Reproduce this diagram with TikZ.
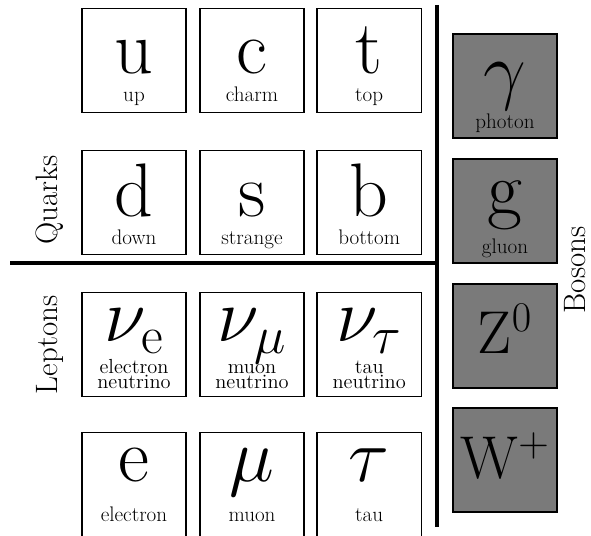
\documentclass[tikz,border=0pt]{standalone}
\usepackage{fix-cm}

\begin{document}
\begin{tikzpicture}[
    cell/.style={rectangle, draw=black, line width=1pt, minimum size=2.6cm, inner sep=0pt},
    bcell/.style={cell, fill=black!52},
    sym/.style={font=\fontsize{54}{54}\selectfont, inner sep=0pt, anchor=base},
    bsym/.style={font=\fontsize{43}{43}\selectfont, inner sep=0pt, anchor=base},
    tag/.style={font=\fontsize{15}{15}\selectfont, inner sep=0pt, anchor=base},
    ltag/.style={font=\fontsize{14.5}{14.5}\selectfont, inner sep=0pt, anchor=base},
    group/.style={font=\fontsize{22}{22}\selectfont, rotate=90},
    rule/.style={draw=black, line width=3.3pt},
  ]
  \useasboundingbox (0,0) rectangle (14.775,13.4);

  %% ---------------- quarks ----------------
  \foreach \n/\x/\s/\l in {u/3.35/u/up, c/6.30/c/charm, t/9.23/t/top} {
    \node[cell] (\n) at (\x,11.89) {};
    \node[sym] (\n-s) at ([yshift=-1.65cm]\n.north) {\s};
    \node[tag] (\n-l) at ([yshift=-2.35cm]\n.north) {\l};
  }
  \foreach \n/\x/\s/\l in {d/3.35/d/down, s/6.30/s/strange, b/9.23/b/bottom} {
    \node[cell] (\n) at (\x,8.34) {};
    \node[sym] (\n-s) at ([yshift=-1.68cm]\n.north) {\s};
    \node[tag] (\n-l) at ([yshift=-2.375cm]\n.north) {\l};
  }

  %% ---------------- leptons ----------------
  \foreach \n/\x/\s/\l in {nue/3.35/{$\nu_{\mathrm{e}}$}/electron, num/6.30/{$\nu_{\mu}$}/muon, nut/9.23/{$\nu_{\tau}$}/tau} {
    \node[cell] (\n) at (\x,4.79) {};
    \node[sym] (\n-s) at ([yshift=-1.25cm]\n.north) {\s};
    \node[ltag] (\n-l) at ([yshift=-2.05cm]\n.north) {\l};
    \node[ltag] (\n-m) at ([yshift=-2.43cm]\n.north) {neutrino};
  }
  \foreach \n/\x/\s/\l in {e/3.35/e/electron, mu/6.30/{$\mu$}/muon, tau/9.23/{$\tau$}/tau} {
    \node[cell] (\n) at (\x,1.29) {};
    \node[sym] (\n-s) at ([yshift=-1.25cm]\n.north) {\s};
    \node[tag] (\n-l) at ([yshift=-2.25cm]\n.north) {\l};
  }

  %% ---------------- bosons ----------------
  \foreach \n/\y/\s/\l/\o in {ga/11.25/{$\gamma$}/photon/1.55, gl/8.125/g/gluon/1.4} {
    \node[bcell] (\n) at (12.625,\y) {};
    \node[sym] (\n-s) at ([yshift=-\o cm]\n.north) {\s};
    \node[tag] (\n-l) at ([yshift=-2.375cm]\n.north) {\l};
  }
  \node[bcell] (Z) at (12.625,5.0) {};
  \node[bsym] (Z-s) at ([yshift=-1.75cm]Z.north) {Z$^0$};
  \node[bcell] (W) at (12.625,1.9) {};
  \node[bsym] (W-s) at ([yshift=-1.78cm]W.north) {W$^+$};

  %% ---------------- separators and group names ----------------
  \coordinate (hl) at (0.25,6.825);
  \coordinate (vt) at (10.925,13.275);
  \coordinate (vb) at (10.925,0.225);
  \draw[rule] (hl) -- (hl -| vt);
  \draw[rule] (vt) -- (vb);

  \node[group] (quarks) at (1.25,8.4) {Quarks};
  \node[group] (leptons) at (1.25,4.775) {Leptons};
  \node[group] (bosons) at (14.375,6.65) {Bosons};

\end{tikzpicture}
\end{document}
